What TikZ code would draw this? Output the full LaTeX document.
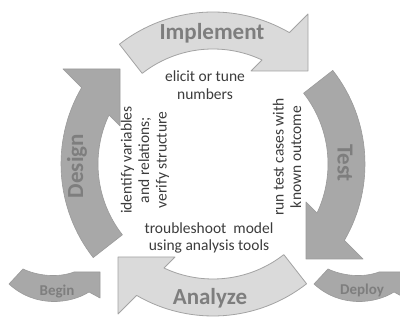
\documentclass[tikz,border=0pt]{standalone}
\usepackage{fontspec}
\setmainfont{Carlito}
\definecolor{lightfill}{HTML}{DADADA}
\definecolor{lightedge}{HTML}{A3A3A3}
\definecolor{darkfill}{HTML}{A8A8A8}
\definecolor{darkedge}{HTML}{9A9A9A}
\definecolor{labelgray}{HTML}{7E7E7E}
\definecolor{notegray}{HTML}{3C3C3C}
\tikzset{
  lightarrow/.style={fill=lightfill, draw=lightedge, line width=0.8pt, line join=round},
  darkarrow/.style={fill=darkfill, draw=darkedge, line width=0.6pt, line join=round},
  phase/.style={text=labelgray, font=\bfseries\fontsize{23}{26}\selectfont, inner sep=0pt},
  endlabel/.style={text=labelgray, font=\bfseries\fontsize{15}{17}\selectfont, inner sep=0pt},
  note/.style={text=notegray, align=center, font=\fontsize{15.5}{17.5}\selectfont, inner sep=0pt},
}
% one quarter of the cycle: ring segment with a right-angled head
\newcommand{\cyclearrow}[2]{%
  \begin{scope}[shift={(213,162)}, rotate=#1]
    \path[#2] (128:152) arc[start angle=128, end angle=59.83, radius=152]
      -- (95,150) -- (95,93) -- (38,93) -- (64.77:115)
      arc[start angle=64.77, end angle=128, radius=115] -- cycle;
  \end{scope}}
% small entry/exit arrow
\newcommand{\sidearrow}[1]{%
  \begin{scope}[xshift=#1]
    \path[darkarrow] (9,42) -- (23,57) .. controls (38,50) and (58,48) .. (74,54)
      -- (100,54) -- (100,28) -- (89,34)
      .. controls (70,22) and (35,18) .. (9,42) -- cycle;
  \end{scope}}
\begin{document}
\begin{tikzpicture}[x=1pt, y=1pt]
  \useasboundingbox (0,0) rectangle (400,326);
  \clip (0,0) rectangle (400,326);
  \fill[white] (0,0) rectangle (400,326);

  % ring of four phases
  \cyclearrow{0}{lightarrow}
  \cyclearrow{-90}{darkarrow}
  \cyclearrow{-180}{lightarrow}
  \cyclearrow{90}{darkarrow}

  % entry and exit
  \sidearrow{0}
  \sidearrow{305}

  % phase labels
  \node[phase] (implement) at (212,293) {Implement};
  \node[phase] (analyze) at (210,28) {Analyze};
  \node[phase, rotate=90] (design) at (77,160) {Design};
  \node[phase, rotate=-90] (test) at (345,163) {Test};
  \node[endlabel] (begin) at (57,34) {Begin};
  \node[endlabel] (deploy) at (362,36) {Deploy};

  % activities inside the cycle
  \node[note] (elicit) at (205,241) {elicit or tune\\numbers};
  \node[note, rotate=90] (identify) at (145,166) {identify variables\\and relations;\\verify structure};
  \node[note, rotate=90] (runtest) at (287,169) {run test cases with\\known outcome};
  \node[note] (trouble) at (209,88) {troubleshoot\ \ model\\using analysis tools};
\end{tikzpicture}
\end{document}
